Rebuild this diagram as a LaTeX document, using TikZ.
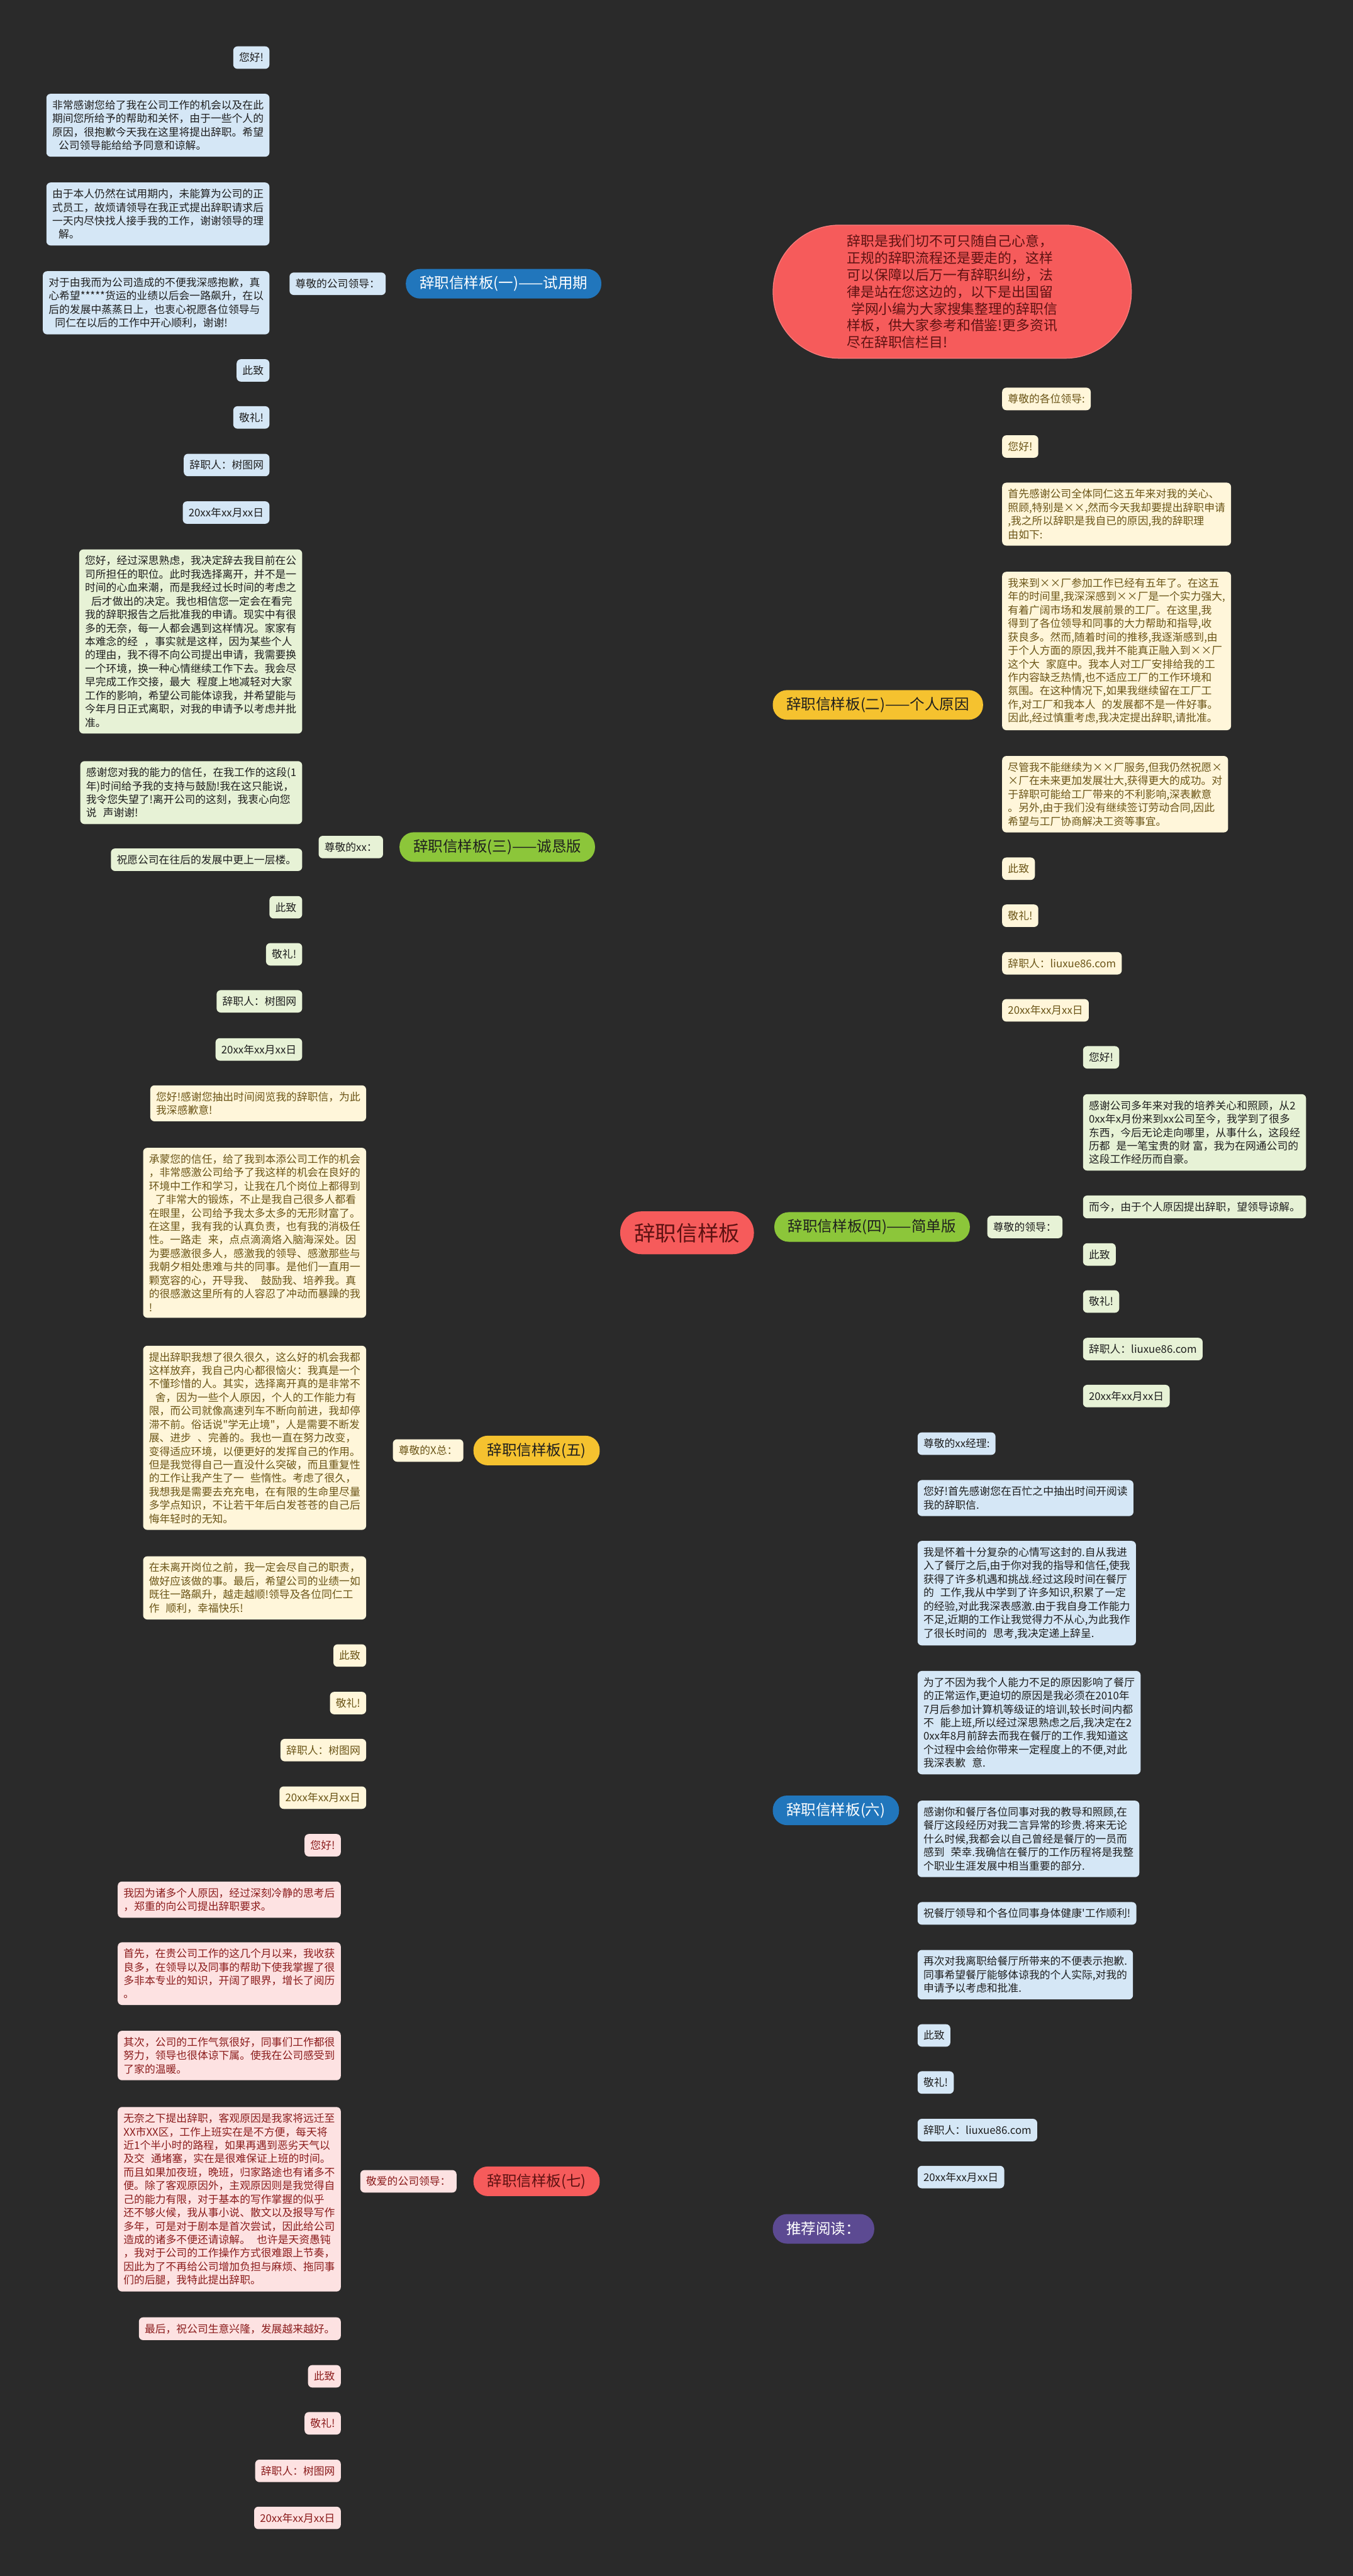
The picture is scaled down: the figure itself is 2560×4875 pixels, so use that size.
\documentclass[tikz,border=0pt]{standalone}
\usepackage{fontspec}
\newfontfamily\cjk{Noto Sans CJK SC}
\usetikzlibrary{positioning}
\definecolor{bgdark}{HTML}{2A2A2A}
\definecolor{blueb}{HTML}{2176BC}
\definecolor{bluel}{HTML}{D5E7F6}
\definecolor{blueline}{HTML}{2C7FC6}
\definecolor{yellowb}{HTML}{F5C22F}
\definecolor{yellowl}{HTML}{FFF6DA}
\definecolor{yellowtext}{HTML}{6B5517}
\definecolor{greenb}{HTML}{8CC63A}
\definecolor{greenl}{HTML}{E7F2D6}
\definecolor{redb}{HTML}{F65B5B}
\definecolor{redl}{HTML}{FDE2E2}
\definecolor{redtext}{HTML}{8B1C1C}
\definecolor{introtext}{HTML}{5E1212}
\definecolor{purpleb}{HTML}{5C4A92}
\definecolor{textdark}{HTML}{1E1E1E}
\newcommand{\tgap}{\hspace{12pt}}
\pgfdeclarelayer{back}
\pgfsetlayers{back,main}
\tikzstyle{leaf} = [rounded corners=8pt, inner xsep=11pt, inner ysep=12pt, align=left, font=\cjk\fontsize{20}{25.5}\selectfont]
\tikzstyle{leafblue} = [leaf, fill=bluel, text=textdark]
\tikzstyle{leafyellow} = [leaf, fill=yellowl, text=yellowtext]
\tikzstyle{leafgreen} = [leaf, fill=greenl, text=textdark]
\tikzstyle{leafred} = [leaf, fill=redl, text=redtext]
\tikzstyle{branch} = [rounded corners=27pt, minimum height=56pt, inner xsep=26pt, inner ysep=12pt, font=\cjk\fontsize{28}{32}\selectfont]
\tikzstyle{root} = [fill=redb, text=introtext, rounded corners=40pt, minimum width=253pt, minimum height=81pt, font=\cjk\fontsize{40}{44}\selectfont]
\tikzstyle{intro} = [fill=redb, text=introtext, draw=redb!80!white, line width=1.5pt, rounded corners=125pt, minimum width=678pt, minimum height=252pt, align=left, font=\cjk\fontsize{26}{32}\selectfont]
\tikzstyle{link} = [line width=3.5pt]
\tikzstyle{twig} = [line width=3pt, rounded corners=10pt]

\begin{document}
\begin{tikzpicture}[x=1pt,y=-1pt]
\fill[bgdark] (0,0) rectangle (2560,4875);
\useasboundingbox (0,0) rectangle (2560,4875);

% centre and intro
\node[root] (root) at (1300,2333) {辞职信样板};
\node[intro, anchor=west] (intro) at (1462,552) {辞职是我们切不可只随自己心意，\\正规的辞职流程还是要走的，这样\\可以保障以后万一有辞职纠纷，法\\律是站在您这边的，以下是出国留\\\hspace{8pt}学网小编为大家搜集整理的辞职信\\样板，供大家参考和借鉴!更多资讯\\尽在辞职信栏目!};

% branches
\node[branch, fill=blueb, text=white, anchor=east] (b1) at (1138,537) {辞职信样板(一)——试用期};
\node[branch, fill=yellowb, text=textdark, anchor=west] (b2) at (1462,1334) {辞职信样板(二)——个人原因};
\node[branch, fill=greenb, text=textdark, anchor=east] (b3) at (1126,1603) {辞职信样板(三)——诚恳版};
\node[branch, fill=greenb, text=textdark, anchor=west] (b4) at (1465,2322) {辞职信样板(四)——简单版};
\node[branch, fill=yellowb, text=textdark, anchor=east] (b5) at (1135,2745) {辞职信样板(五)};
\node[branch, fill=blueb, text=white, anchor=west] (b6) at (1462,3426) {辞职信样板(六)};
\node[branch, fill=redb, text=introtext, anchor=east] (b7) at (1135,4128) {辞职信样板(七)};
\node[branch, fill=purpleb, text=white, anchor=west] (b8) at (1462,4218) {推荐阅读：};

% sub topics
\node[leafblue, anchor=east] (s1) at (730,537) {尊敬的公司领导：};
\node[leafgreen, anchor=east] (s3) at (725,1603) {尊敬的xx：};
\node[leafgreen, anchor=west] (s4) at (1868,2322) {尊敬的领导：};
\node[leafyellow, anchor=east] (s5) at (877,2745) {尊敬的X总：};
\node[leafred, anchor=east] (s7) at (864,4128) {敬爱的公司领导：};

% branch 1
\node[leafblue, anchor=east] (l1a) at (510,109) {您好!};
\node[leafblue, anchor=east] (l1b) at (510,237) {非常感谢您给了我在公司工作的机会以及在此\\期间您所给予的帮助和关怀，由于一些个人的\\原因，很抱歉今天我在这里将提出辞职。希望\\\tgap 公司领导能给给予同意和谅解。};
\node[leafblue, anchor=east] (l1c) at (510,405) {由于本人仍然在试用期内，未能算为公司的正\\式员工，故烦请领导在我正式提出辞职请求后\\一天内尽快找人接手我的工作，谢谢领导的理\\\tgap 解。};
\node[leafblue, anchor=east] (l1d) at (510,573) {对于由我而为公司造成的不便我深感抱歉，真\\心希望*****货运的业绩以后会一路飙升，在以\\后的发展中蒸蒸日上，也衷心祝愿各位领导与\\\tgap 同仁在以后的工作中开心顺利，谢谢!};
\node[leafblue, anchor=east] (l1e) at (510,701) {此致};
\node[leafblue, anchor=east] (l1f) at (510,790) {敬礼!};
\node[leafblue, anchor=east] (l1g) at (510,880) {辞职人：树图网};
\node[leafblue, anchor=east] (l1h) at (510,970) {20xx年xx月xx日};

% branch 2
\node[leafyellow, anchor=west] (l2a) at (1896,755) {尊敬的各位领导:};
\node[leafyellow, anchor=west] (l2b) at (1896,845) {您好!};
\node[leafyellow, anchor=west] (l2c) at (1896,973) {首先感谢公司全体同仁这五年来对我的关心、\\照顾,特别是××,然而今天我却要提出辞职申请\\,我之所以辞职是我自已的原因,我的辞职理\\由如下:};
\node[leafyellow, anchor=west] (l2d) at (1896,1232) {我来到××厂参加工作已经有五年了。在这五\\年的时间里,我深深感到××厂是一个实力强大,\\有着广阔市场和发展前景的工厂。在这里,我\\得到了各位领导和同事的大力帮助和指导,收\\获良多。然而,随着时间的推移,我逐渐感到,由\\于个人方面的原因,我并不能真正融入到××厂\\这个大\tgap 家庭中。我本人对工厂安排给我的工\\作内容缺乏热情,也不适应工厂的工作环境和\\氛围。在这种情况下,如果我继续留在工厂工\\作,对工厂和我本人\tgap 的发展都不是一件好事。\\因此,经过慎重考虑,我决定提出辞职,请批准。};
\node[leafyellow, anchor=west] (l2e) at (1896,1503) {尽管我不能继续为××厂服务,但我仍然祝愿×\\×厂在未来更加发展壮大,获得更大的成功。对\\于辞职可能给工厂带来的不利影响,深表歉意\\。另外,由于我们没有继续签订劳动合同,因此\\希望与工厂协商解决工资等事宜。};
\node[leafyellow, anchor=west] (l2f) at (1896,1644) {此致};
\node[leafyellow, anchor=west] (l2g) at (1896,1733) {敬礼!};
\node[leafyellow, anchor=west] (l2h) at (1896,1823) {辞职人：liuxue86.com};
\node[leafyellow, anchor=west] (l2i) at (1896,1912) {20xx年xx月xx日};

% branch 3
\node[leafgreen, anchor=east] (l3a) at (572,1214) {您好，经过深思熟虑，我决定辞去我目前在公\\司所担任的职位。此时我选择离开，并不是一\\时间的心血来潮，而是我经过长时间的考虑之\\\tgap 后才做出的决定。我也相信您一定会在看完\\我的辞职报告之后批准我的申请。现实中有很\\多的无奈，每一人都会遇到这样情况。家家有\\本难念的经\tgap ，事实就是这样，因为某些个人\\的理由，我不得不向公司提出申请，我需要换\\一个环境，换一种心情继续工作下去。我会尽\\早完成工作交接，最大\tgap 程度上地减轻对大家\\工作的影响，希望公司能体谅我，并希望能与\\今年月日正式离职，对我的申请予以考虑并批\\准。};
\node[leafgreen, anchor=east] (l3b) at (572,1500) {感谢您对我的能力的信任，在我工作的这段(1\\年)时间给予我的支持与鼓励!我在这只能说，\\我令您失望了!离开公司的这刻，我衷心向您\\说\tgap 声谢谢!};
\node[leafgreen, anchor=east] (l3c) at (572,1627) {祝愿公司在往后的发展中更上一层楼。};
\node[leafgreen, anchor=east] (l3d) at (572,1717) {此致};
\node[leafgreen, anchor=east] (l3e) at (572,1806) {敬礼!};
\node[leafgreen, anchor=east] (l3f) at (572,1895) {辞职人：树图网};
\node[leafgreen, anchor=east] (l3g) at (572,1986) {20xx年xx月xx日};

% branch 4
\node[leafgreen, anchor=west] (l4a) at (2049,2001) {您好!};
\node[leafgreen, anchor=west] (l4b) at (2049,2143) {感谢公司多年来对我的培养关心和照顾，从2\\0xx年x月份来到xx公司至今，我学到了很多\\东西，今后无论走向哪里，从事什么，这段经\\历都\tgap 是一笔宝贵的财 富，我为在网通公司的\\这段工作经历而自豪。};
\node[leafgreen, anchor=west] (l4c) at (2049,2284) {而今，由于个人原因提出辞职，望领导谅解。};
\node[leafgreen, anchor=west] (l4d) at (2049,2374) {此致};
\node[leafgreen, anchor=west] (l4e) at (2049,2463) {敬礼!};
\node[leafgreen, anchor=west] (l4f) at (2049,2553) {辞职人：liuxue86.com};
\node[leafgreen, anchor=west] (l4g) at (2049,2642) {20xx年xx月xx日};

% branch 5
\node[leafyellow, anchor=east] (l5a) at (693,2088) {您好!感谢您抽出时间阅览我的辞职信，为此\\我深感歉意!};
\node[leafyellow, anchor=east] (l5b) at (693,2333) {承蒙您的信任，给了我到本添公司工作的机会\\，非常感激公司给予了我这样的机会在良好的\\环境中工作和学习，让我在几个岗位上都得到\\\tgap 了非常大的锻炼，不止是我自己很多人都看\\在眼里，公司给予我太多太多的无形财富了。\\在这里，我有我的认真负责，也有我的消极任\\性。一路走\tgap 来，点点滴滴烙入脑海深处。因\\为要感激很多人，感激我的领导、感激那些与\\我朝夕相处患难与共的同事。是他们一直用一\\颗宽容的心，开导我、\tgap 鼓励我、培养我。真\\的很感激这里所有的人容忍了冲动而暴躁的我\\!};
\node[leafyellow, anchor=east] (l5c) at (693,2721) {提出辞职我想了很久很久，这么好的机会我都\\这样放弃，我自己内心都很恼火：我真是一个\\不懂珍惜的人。其实，选择离开真的是非常不\\\tgap 舍，因为一些个人原因，个人的工作能力有\\限，而公司就像高速列车不断向前进，我却停\\滞不前。俗话说"学无止境"，人是需要不断发\\展、进步\tgap 、完善的。我也一直在努力改变，\\变得适应环境，以便更好的发挥自己的作用。\\但是我觉得自己一直没什么突破，而且重复性\\的工作让我产生了一\tgap 些惰性。考虑了很久，\\我想我是需要去充充电，在有限的生命里尽量\\多学点知识，不让若干年后白发苍苍的自己后\\悔年轻时的无知。};
\node[leafyellow, anchor=east] (l5d) at (693,3005) {在未离开岗位之前，我一定会尽自己的职责，\\做好应该做的事。最后，希望公司的业绩一如\\既往一路飙升，越走越顺!领导及各位同仁工\\作\tgap 顺利，幸福快乐!};
\node[leafyellow, anchor=east] (l5e) at (693,3133) {此致};
\node[leafyellow, anchor=east] (l5f) at (693,3223) {敬礼!};
\node[leafyellow, anchor=east] (l5g) at (693,3312) {辞职人：树图网};
\node[leafyellow, anchor=east] (l5h) at (693,3402) {20xx年xx月xx日};

% branch 6
\node[leafblue, anchor=west] (l6a) at (1736,2732) {尊敬的xx经理:};
\node[leafblue, anchor=west] (l6b) at (1736,2835) {您好!首先感谢您在百忙之中抽出时间开阅读\\我的辞职信.};
\node[leafblue, anchor=west] (l6c) at (1736,3015) {我是怀着十分复杂的心情写这封的.自从我进\\入了餐厅之后,由于你对我的指导和信任,使我\\获得了许多机遇和挑战.经过这段时间在餐厅\\的\tgap 工作,我从中学到了许多知识,积累了一定\\的经验,对此我深表感激.由于我自身工作能力\\不足,近期的工作让我觉得力不从心,为此我作\\了很长时间的\tgap 思考,我决定递上辞呈.};
\node[leafblue, anchor=west] (l6d) at (1736,3260) {为了不因为我个人能力不足的原因影响了餐厅\\的正常运作,更迫切的原因是我必须在2010年\\7月后参加计算机等级证的培训,较长时间内都\\不\tgap 能上班,所以经过深思熟虑之后,我决定在2\\0xx年8月前辞去而我在餐厅的工作.我知道这\\个过程中会给你带来一定程度上的不便,对此\\我深表歉\tgap 意.};
\node[leafblue, anchor=west] (l6e) at (1736,3480) {感谢你和餐厅各位同事对我的教导和照顾,在\\餐厅这段经历对我二言异常的珍贵.将来无论\\什么时候,我都会以自己曾经是餐厅的一员而\\感到\tgap 荣幸.我确信在餐厅的工作历程将是我整\\个职业生涯发展中相当重要的部分.};
\node[leafblue, anchor=west] (l6f) at (1736,3621) {祝餐厅领导和个各位同事身体健康'工作顺利!};
\node[leafblue, anchor=west] (l6g) at (1736,3737) {再次对我离职给餐厅所带来的不便表示抱歉.\\同事希望餐厅能够体谅我的个人实际,对我的\\申请予以考虑和批准.};
\node[leafblue, anchor=west] (l6h) at (1736,3852) {此致};
\node[leafblue, anchor=west] (l6i) at (1736,3941) {敬礼!};
\node[leafblue, anchor=west] (l6j) at (1736,4031) {辞职人：liuxue86.com};
\node[leafblue, anchor=west] (l6k) at (1736,4120) {20xx年xx月xx日};

% branch 7
\node[leafred, anchor=east] (l7a) at (645,3492) {您好!};
\node[leafred, anchor=east] (l7b) at (645,3595) {我因为诸多个人原因，经过深刻冷静的思考后\\，郑重的向公司提出辞职要求。};
\node[leafred, anchor=east] (l7c) at (645,3735) {首先，在贵公司工作的这几个月以来，我收获\\良多，在领导以及同事的帮助下使我掌握了很\\多非本专业的知识，开阔了眼界，增长了阅历\\。};
\node[leafred, anchor=east] (l7d) at (645,3890) {其次，公司的工作气氛很好，同事们工作都很\\努力，领导也很体谅下属。使我在公司感受到\\了家的温暖。};
\node[leafred, anchor=east] (l7e) at (645,4162) {无奈之下提出辞职，客观原因是我家将远迁至\\XX市XX区，工作上班实在是不方便，每天将\\近1个半小时的路程，如果再遇到恶劣天气以\\及交\tgap 通堵塞，实在是很难保证上班的时间。\\而且如果加夜班，晚班，归家路途也有诸多不\\便。除了客观原因外，主观原因则是我觉得自\\己的能力有限，对于基本的写作掌握的似乎\\还不够火候，我从事小说、散文以及报导写作\\多年，可是对于剧本是首次尝试，因此给公司\\造成的诸多不便还请谅解。\tgap 也许是天资愚钝\\，我对于公司的工作操作方式很难跟上节奏，\\因此为了不再给公司增加负担与麻烦、拖同事\\们的后腿，我特此提出辞职。};
\node[leafred, anchor=east] (l7f) at (645,4407) {最后，祝公司生意兴隆，发展越来越好。};
\node[leafred, anchor=east] (l7g) at (645,4497) {此致};
\node[leafred, anchor=east] (l7h) at (645,4586) {敬礼!};
\node[leafred, anchor=east] (l7i) at (645,4676) {辞职人：树图网};
\node[leafred, anchor=east] (l7j) at (645,4765) {20xx年xx月xx日};

\begin{pgfonlayer}{back}
% centre to branches
\draw[link, redb] (root.center) .. controls (root.center |- intro.west) .. (intro.west);
\draw[link, blueline] (root.center) .. controls (root.center |- b1.east) .. (b1.east);
\draw[link, yellowb] (root.center) .. controls (root.center |- b2.west) .. (b2.west);
\draw[link, greenb] (root.center) .. controls (root.center |- b3.east) .. (b3.east);
\draw[link, greenb] (root.center |- b4.west) -- (b4.west);
\draw[link, yellowb] (root.center) .. controls (root.center |- b5.east) .. (b5.east);
\draw[link, blueline] (root.center) .. controls (root.center |- b6.west) .. (b6.west);
\draw[link, redb] (root.center) .. controls (root.center |- b7.east) .. (b7.east);
\draw[link, purpleb] (root.center) .. controls (root.center |- b8.west) .. (b8.west);
% branch to sub topic
\draw[link, blueline] (b1.west) -- (s1.east);
\draw[link, greenb] (b3.west) -- (s3.east);
\draw[link, greenb] (b4.east) -- (s4.west);
\draw[link, yellowb] (b5.west) -- (s5.east);
\draw[link, redb] (b7.west) -- (s7.east);
% branch 1
\draw[twig, blueline] (s1.west) -- ++(-19,0) |- (l1a.east);
\draw[twig, blueline] (s1.west) -- ++(-19,0) |- (l1b.east);
\draw[twig, blueline] (s1.west) -- ++(-19,0) |- (l1c.east);
\draw[twig, blueline] (s1.west) -- ++(-19,0) |- (l1d.east);
\draw[twig, blueline] (s1.west) -- ++(-19,0) |- (l1e.east);
\draw[twig, blueline] (s1.west) -- ++(-19,0) |- (l1f.east);
\draw[twig, blueline] (s1.west) -- ++(-19,0) |- (l1g.east);
\draw[twig, blueline] (s1.west) -- ++(-19,0) |- (l1h.east);
% branch 2
\draw[twig, yellowb] (b2.east) .. controls +(16,0) and +(-22,0) .. (l2a.west);
\draw[twig, yellowb] (b2.east) .. controls +(16,0) and +(-22,0) .. (l2b.west);
\draw[twig, yellowb] (b2.east) .. controls +(16,0) and +(-22,0) .. (l2c.west);
\draw[twig, yellowb] (b2.east) .. controls +(16,0) and +(-22,0) .. (l2d.west);
\draw[twig, yellowb] (b2.east) .. controls +(16,0) and +(-22,0) .. (l2e.west);
\draw[twig, yellowb] (b2.east) .. controls +(16,0) and +(-22,0) .. (l2f.west);
\draw[twig, yellowb] (b2.east) .. controls +(16,0) and +(-22,0) .. (l2g.west);
\draw[twig, yellowb] (b2.east) .. controls +(16,0) and +(-22,0) .. (l2h.west);
\draw[twig, yellowb] (b2.east) .. controls +(16,0) and +(-22,0) .. (l2i.west);
% branch 3
\draw[twig, greenb] (s3.west) -- ++(-18,0) |- (l3a.east);
\draw[twig, greenb] (s3.west) -- ++(-18,0) |- (l3b.east);
\draw[twig, greenb] (s3.west) -- ++(-18,0) |- (l3c.east);
\draw[twig, greenb] (s3.west) -- ++(-18,0) |- (l3d.east);
\draw[twig, greenb] (s3.west) -- ++(-18,0) |- (l3e.east);
\draw[twig, greenb] (s3.west) -- ++(-18,0) |- (l3f.east);
\draw[twig, greenb] (s3.west) -- ++(-18,0) |- (l3g.east);
% branch 4
\draw[twig, greenb] (s4.east) -- ++(24,0) |- (l4a.west);
\draw[twig, greenb] (s4.east) -- ++(24,0) |- (l4b.west);
\draw[twig, greenb] (s4.east) -- ++(24,0) |- (l4c.west);
\draw[twig, greenb] (s4.east) -- ++(24,0) |- (l4d.west);
\draw[twig, greenb] (s4.east) -- ++(24,0) |- (l4e.west);
\draw[twig, greenb] (s4.east) -- ++(24,0) |- (l4f.west);
\draw[twig, greenb] (s4.east) -- ++(24,0) |- (l4g.west);
% branch 5
\draw[twig, yellowb] (s5.west) -- ++(-17,0) |- (l5a.east);
\draw[twig, yellowb] (s5.west) -- ++(-17,0) |- (l5b.east);
\draw[twig, yellowb] (s5.west) -- ++(-17,0) |- (l5c.east);
\draw[twig, yellowb] (s5.west) -- ++(-17,0) |- (l5d.east);
\draw[twig, yellowb] (s5.west) -- ++(-17,0) |- (l5e.east);
\draw[twig, yellowb] (s5.west) -- ++(-17,0) |- (l5f.east);
\draw[twig, yellowb] (s5.west) -- ++(-17,0) |- (l5g.east);
\draw[twig, yellowb] (s5.west) -- ++(-17,0) |- (l5h.east);
% branch 6
\draw[twig, blueline] (b6.east) .. controls +(16,0) and +(-24,0) .. (l6a.west);
\draw[twig, blueline] (b6.east) .. controls +(16,0) and +(-24,0) .. (l6b.west);
\draw[twig, blueline] (b6.east) .. controls +(16,0) and +(-24,0) .. (l6c.west);
\draw[twig, blueline] (b6.east) .. controls +(16,0) and +(-24,0) .. (l6d.west);
\draw[twig, blueline] (b6.east) .. controls +(16,0) and +(-24,0) .. (l6e.west);
\draw[twig, blueline] (b6.east) .. controls +(16,0) and +(-24,0) .. (l6f.west);
\draw[twig, blueline] (b6.east) .. controls +(16,0) and +(-24,0) .. (l6g.west);
\draw[twig, blueline] (b6.east) .. controls +(16,0) and +(-24,0) .. (l6h.west);
\draw[twig, blueline] (b6.east) .. controls +(16,0) and +(-24,0) .. (l6i.west);
\draw[twig, blueline] (b6.east) .. controls +(16,0) and +(-24,0) .. (l6j.west);
\draw[twig, blueline] (b6.east) .. controls +(16,0) and +(-24,0) .. (l6k.west);
% branch 7
\draw[twig, redb] (s7.west) -- ++(-19,0) |- (l7a.east);
\draw[twig, redb] (s7.west) -- ++(-19,0) |- (l7b.east);
\draw[twig, redb] (s7.west) -- ++(-19,0) |- (l7c.east);
\draw[twig, redb] (s7.west) -- ++(-19,0) |- (l7d.east);
\draw[twig, redb] (s7.west) -- ++(-19,0) |- (l7e.east);
\draw[twig, redb] (s7.west) -- ++(-19,0) |- (l7f.east);
\draw[twig, redb] (s7.west) -- ++(-19,0) |- (l7g.east);
\draw[twig, redb] (s7.west) -- ++(-19,0) |- (l7h.east);
\draw[twig, redb] (s7.west) -- ++(-19,0) |- (l7i.east);
\draw[twig, redb] (s7.west) -- ++(-19,0) |- (l7j.east);
\end{pgfonlayer}
\end{tikzpicture}
\end{document}
